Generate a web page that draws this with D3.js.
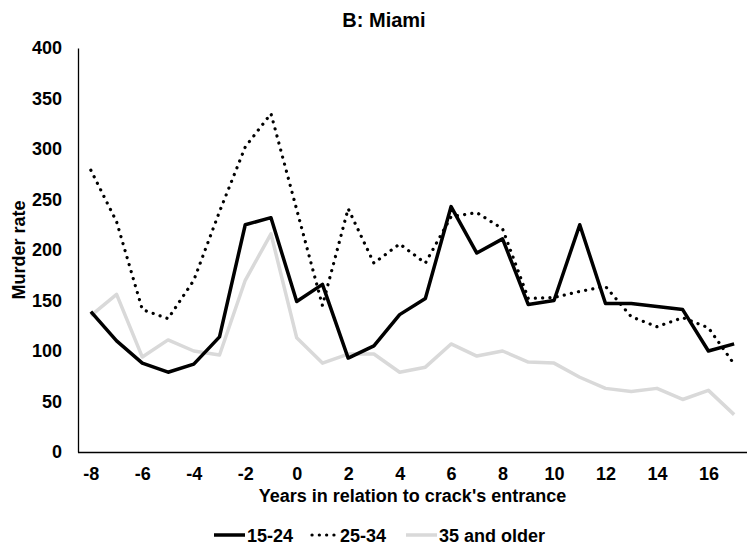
<!DOCTYPE html>
<html>
<head>
<meta charset="utf-8">
<script src="https://cdn.jsdelivr.net/npm/d3@7"></script>
<style>
  html, body { margin: 0; padding: 0; background: #ffffff; }
  svg { display: block; }
  text { font-family: "Liberation Sans", Arial, sans-serif; font-weight: bold; fill: #000; }
</style>
</head>
<body>
<svg id="chart" width="747" height="544"></svg>
<script>
// ---- data ----
const years = [-8,-7,-6,-5,-4,-3,-2,-1,0,1,2,3,4,5,6,7,8,9,10,11,12,13,14,15,16,17];
const xTickLabels = [-8,-6,-4,-2,0,2,4,6,8,10,12,14,16];
const yTickLabels = [0,50,100,150,200,250,300,350,400];
const seriesNames = ["15-24", "25-34", "35 and older"];
const age1524 = [139,110,88,79,87,114,225,232,149,166,93,105,136,152,243,197,211,146,150,225,147,147,144,141,100,107];
const age2534 = [279,228,141,132,170,238,302,335,240,145,241,187,206,187,233,237,221,152,153,159,164,134,124,133,123,87];
const age35plus = [135,156,94,111,100,96,170,216,113,88,97,97,79,84,107,95,100,89,88,74,63,60,63,52,61,37];

(function () {
// ---- layout ----
const svg = d3.select("#chart");
const mLeft = 78, mRight = 747, mTop = 48, mBottom = 452;

const x = d3.scalePoint().domain(years).range([mLeft, mRight]).padding(0.5);
const y = d3.scaleLinear().domain([0, 400]).range([mBottom, mTop]);

const styles = [
  { name: seriesNames[0], values: age1524, stroke: "#000000", width: 3.5, dash: null, cap: "butt" },
  { name: seriesNames[1], values: age2534, stroke: "#000000", width: 3.2, dash: "0.1 7.2", cap: "round" },
  { name: seriesNames[2], values: age35plus, stroke: "#d9d9d9", width: 3.5, dash: null, cap: "butt" }
];

// title
svg.append("text").attr("x", 384).attr("y", 27).attr("text-anchor", "middle")
  .style("font-size", "20px").text("B: Miami");

// axes
const yAxis = d3.axisLeft(y).tickValues(yTickLabels).tickSize(0).tickPadding(16);
const gy = svg.append("g").attr("transform", `translate(${mLeft},0)`).call(yAxis);
gy.select(".domain").attr("stroke", "#000").attr("stroke-width", 1.3);
gy.selectAll("text").style("font-size", "18px").style("font-family", "'Liberation Sans', Arial, sans-serif").style("font-weight", "bold");

const xAxis = d3.axisBottom(x).tickValues(xTickLabels).tickSize(0).tickPadding(15);
const gx = svg.append("g").attr("transform", `translate(0,${mBottom})`).call(xAxis);
gx.select(".domain").attr("stroke", "#000").attr("stroke-width", 1.3)
  .attr("d", `M${mLeft},0.5H${mRight}`);
gx.selectAll("text").style("font-size", "18px").style("font-family", "'Liberation Sans', Arial, sans-serif").style("font-weight", "bold");

// axis titles
svg.append("text").attr("x", (mLeft + mRight) / 2).attr("y", 502).attr("text-anchor", "middle")
  .style("font-size", "18px").text("Years in relation to crack's entrance");
svg.append("text").attr("transform", `translate(25,${(mTop + mBottom) / 2}) rotate(-90)`)
  .attr("text-anchor", "middle").style("font-size", "18px").text("Murder rate");

// lines
const line = d3.line().x((d, i) => x(years[i])).y(d => y(d)).curve(d3.curveLinear);
const drawOrder = [2, 1, 0];
drawOrder.forEach(k => {
  const s = styles[k];
  svg.append("path").datum(s.values)
    .attr("fill", "none").attr("stroke", s.stroke).attr("stroke-width", s.width)
    .attr("stroke-linejoin", "round").attr("stroke-linecap", s.cap)
    .attr("stroke-dasharray", s.dash)
    .attr("d", line);
});

// legend
const legendY = 535;
const legendItems = [
  { x: 214, len: 31, textX: 247, style: styles[0] },
  { x: 312, len: 23, textX: 340, style: styles[1] },
  { x: 406, len: 31, textX: 439, style: styles[2] }
];
legendItems.forEach(it => {
  const g = svg.append("g");
  g.append("line").attr("x1", it.x).attr("x2", it.x + it.len).attr("y1", legendY).attr("y2", legendY)
    .attr("stroke", it.style.stroke).attr("stroke-width", it.style.width)
    .attr("stroke-linecap", it.style.cap).attr("stroke-dasharray", it.style.dash);
  g.append("text").attr("x", it.textX).attr("y", legendY + 6.5)
    .style("font-size", "18px").text(it.style.name);
});
})();
</script>
</body>
</html>
